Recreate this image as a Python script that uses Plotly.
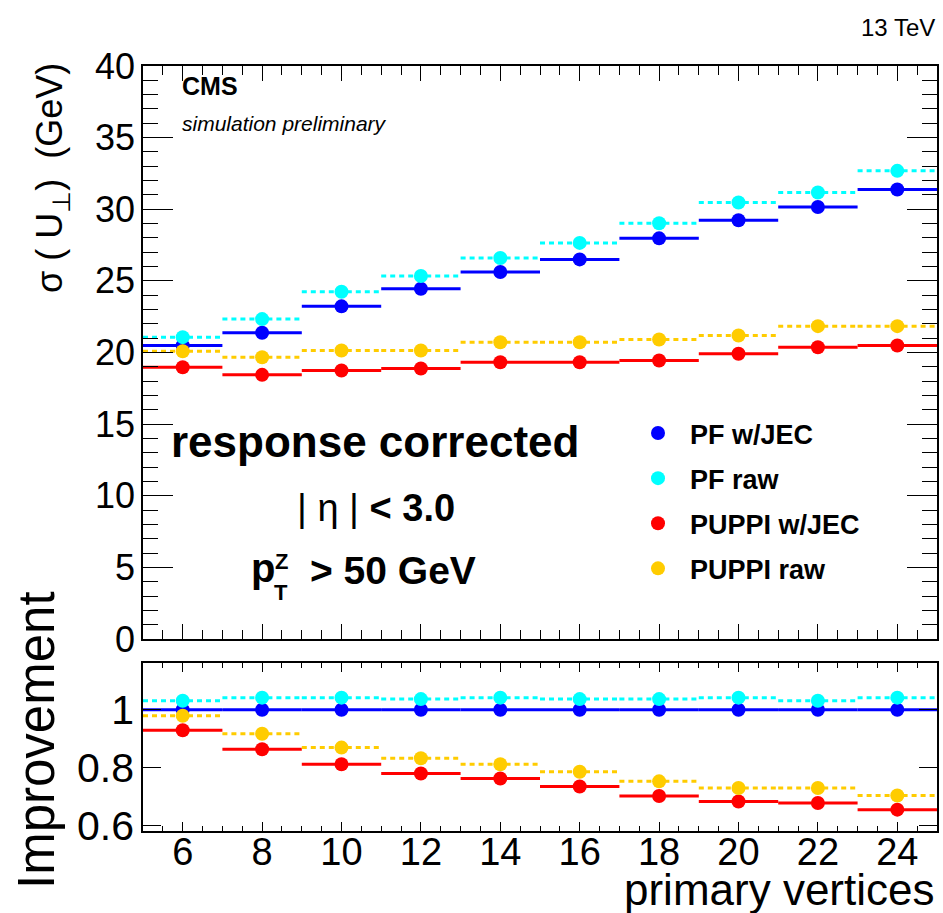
import plotly.graph_objects as go

# ---------------- data ----------------
nvtx_centers = [6, 8, 10, 12, 14, 16, 18, 20, 22, 24]
bin_edges = [5, 7, 9, 11, 13, 15, 17, 19, 21, 23, 25]

pf_jec = [20.49, 21.38, 23.22, 24.45, 25.62, 26.50, 27.97, 29.23, 30.16, 31.38]
pf_raw = [21.07, 22.33, 24.24, 25.34, 26.60, 27.65, 29.02, 30.47, 31.17, 32.68]
puppi_jec = [18.97, 18.44, 18.74, 18.88, 19.32, 19.32, 19.44, 19.91, 20.37, 20.49]
puppi_raw = [20.09, 19.67, 20.14, 20.14, 20.72, 20.72, 20.91, 21.19, 21.84, 21.84]

ratio_pf_jec = [1.0, 1.0, 1.0, 1.0, 1.0, 1.0, 1.0, 1.0, 1.0, 1.0]
ratio_pf_raw = [1.031, 1.042, 1.042, 1.037, 1.042, 1.037, 1.037, 1.042, 1.031, 1.042]
ratio_puppi_jec = [0.929, 0.863, 0.811, 0.779, 0.762, 0.734, 0.701, 0.682, 0.677, 0.654]
ratio_puppi_raw = [0.979, 0.917, 0.869, 0.832, 0.811, 0.785, 0.752, 0.729, 0.729, 0.703]

series_names = ["PF w/JEC", "PF raw", "PUPPI w/JEC", "PUPPI raw"]
series_colors = ["#0000ff", "#00ffff", "#ff0000", "#ffcc00"]
series_dash = ["solid", "5px,4px", "solid", "5px,4px"]
upper_values = [pf_jec, pf_raw, puppi_jec, puppi_raw]
lower_values = [ratio_pf_jec, ratio_pf_raw, ratio_puppi_jec, ratio_puppi_raw]

upper_yticks = [0, 5, 10, 15, 20, 25, 30, 35, 40]
lower_yticks = [0.6, 0.8, 1.0]
lower_yticktext = ["0.6", "0.8", "1"]
x_ticks = nvtx_centers

W, H = 943, 913
FONT = "Liberation Sans, Arial, Helvetica, sans-serif"


def px(x):
    return x / W


def py(y):
    return 1 - y / H


def steps(values):
    xs, ys = [], []
    for lo, hi, v in zip(bin_edges[:-1], bin_edges[1:], values):
        xs += [lo, hi, None]
        ys += [v, v, None]
    return xs, ys


fig = go.Figure()

for vals_set, xa, ya, show in [(upper_values, "x", "y", True), (lower_values, "x2", "y2", False)]:
    for name, col, dash, vals in zip(series_names, series_colors, series_dash, vals_set):
        sx, sy = steps(vals)
        fig.add_trace(go.Scatter(x=sx, y=sy, mode="lines", xaxis=xa, yaxis=ya,
                                 line=dict(color=col, width=3, dash=dash),
                                 showlegend=False, hoverinfo="skip"))
        fig.add_trace(go.Scatter(x=nvtx_centers, y=vals, mode="markers", xaxis=xa, yaxis=ya,
                                 marker=dict(color=col, size=14, symbol="circle"),
                                 name=name, legendgroup=name, showlegend=show))

xdom = [px(143), px(937)]
common_axis = dict(showline=True, linecolor="black", linewidth=1.5, mirror="allticks",
                   ticks="inside", tickcolor="black", showgrid=False, zeroline=False,
                   automargin=False)

fig.update_layout(
    width=W, height=H,
    margin=dict(l=0, r=0, t=0, b=0, autoexpand=False),
    paper_bgcolor="white", plot_bgcolor="white",
    font=dict(family=FONT, color="black"),
    xaxis=dict(domain=xdom, range=[5, 25], anchor="y", matches="x2", showticklabels=False,
               tickvals=x_ticks, ticklen=15, tickwidth=1.2,
               minor=dict(dtick=0.5, tick0=5, ticklen=9, ticks="inside", tickcolor="black"),
               **common_axis),
    yaxis=dict(domain=[py(639), py(66)], range=[0, 40], anchor="x",
               tickvals=upper_yticks, ticklen=30, tickwidth=1.2,
               tickfont=dict(size=36), ticklabelstandoff=-1,
               minor=dict(dtick=1, tick0=0, ticklen=15, ticks="inside", tickcolor="black"),
               **common_axis),
    xaxis2=dict(domain=xdom, range=[5, 25], anchor="y2",
                tickvals=x_ticks, ticklen=9, tickwidth=1.2,
                tickfont=dict(size=38), ticklabelstandoff=-13,
                minor=dict(dtick=0.5, tick0=5, ticklen=5, ticks="inside", tickcolor="black"),
                **common_axis),
    yaxis2=dict(domain=[py(831), py(663)], range=[0.58, 1.162], anchor="x2",
                tickvals=lower_yticks, ticktext=lower_yticktext, ticklen=18, tickwidth=1.2,
                tickfont=dict(size=41), ticklabelstandoff=-1,
                **common_axis),
    legend=dict(x=px(626), y=py(409), xanchor="left", yanchor="top",
                font=dict(size=27, family=FONT, weight="bold"),
                bgcolor="rgba(0,0,0,0)", itemwidth=54, tracegroupgap=7,
                traceorder="grouped"),
    showlegend=True,
)

fig.add_shape(type="line", xref="x2", yref="y2", x0=5, x1=25, y0=1, y1=1,
              line=dict(color="gray", width=1.5, dash="dash"), layer="below")

ann = []


def text(x, y, s, size, xanchor="center", yanchor="middle", angle=0, bold=False, italic=False):
    ann.append(dict(x=px(x), y=py(y), xref="paper", yref="paper", text=s, showarrow=False,
                    xanchor=xanchor, yanchor=yanchor, textangle=angle,
                    font=dict(size=size, family=FONT, color="black",
                              weight="bold" if bold else "normal",
                              style="italic" if italic else "normal")))


text(937, 27, "13 TeV", 24, xanchor="right")
text(180, 86, "CMS", 25, xanchor="left", bold=True)
text(180, 124, "simulation preliminary", 21, xanchor="left", italic=True)
text(375, 441, "response corrected", 44, bold=True)
text(376, 508, "| η | <b>&lt; 3.0</b>", 38)
text(263, 568, "p", 40, bold=True)
text(281, 561, "Z", 22, bold=True)
text(281, 592, "T", 22, bold=True)
text(308, 570, "&gt; 50 GeV", 39, xanchor="left", bold=True)
text(52, 178, "σ ( U<sub>⊥</sub>)  (GeV)", 36, angle=-90)
text(36, 740, "Improvement", 51, angle=-90)
text(937, 889, "primary vertices", 44, xanchor="right")

fig.update_layout(annotations=ann)

fig.write_html("out.html")
